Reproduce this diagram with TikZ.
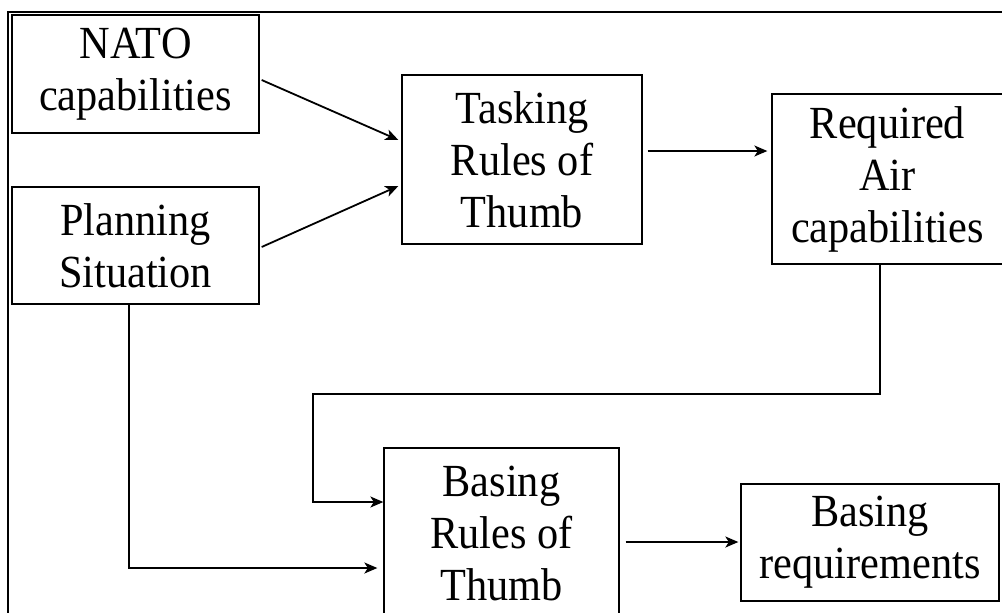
\documentclass[tikz,border=0pt]{standalone}
\usepackage{fontspec}
\setmainfont{Liberation Serif}[FakeStretch=0.92]
\usetikzlibrary{arrows.meta,calc}
\begin{document}
\begin{tikzpicture}[x=1pt,y=-1pt,
  box/.style={draw,line width=1.3pt,inner sep=0pt,align=center,font=\fontsize{46}{52}\selectfont},
  conn/.style={line width=1.8pt,-{Stealth[length=13pt,width=11pt,inset=3.5pt]}}]
\useasboundingbox (0,0) rectangle (1002,613);
\clip (0,0) rectangle (1002,613);
\draw[line width=2.2pt] (8,650) -- (8,12) -- (1020,12);
\node[box,minimum width=247pt,minimum height=118pt] (nato) at (135.5,74) {NATO\\capabilities};
\node[box,minimum width=247pt,minimum height=117pt] (plan) at (135.5,245.5) {Planning\\Situation};
\node[box,minimum width=240pt,minimum height=169pt] (task) at (522,159.5) {Tasking\\Rules of\\Thumb};
\node[box,minimum width=231pt,minimum height=170pt] (req) at (887.5,179) {Required\\Air\\capabilities};
\node[box,minimum width=235pt,minimum height=170pt] (brules) at (501.5,533) {Basing\\Rules of\\Thumb};
\node[box,minimum width=258pt,minimum height=117pt] (breq) at (870,542.5) {Basing\\requirements};
\draw[conn] ($(nato.east)+(2,6)$) -- ($(task.west)+(-3,-19.5)$);
\draw[conn] ($(plan.east)+(2,1.5)$) -- ($(task.west)+(-3,26.5)$);
\draw[conn] ($(task.east)+(5,-8.5)$) -- ($(req.west)+(-4,-28)$);
\draw[conn] ($(req.south)+(-7.5,0)$) -- ++(0,129) -| ($(brules.west)+(-70,-31)$) -- ($(brules.west)+(0,-31)$);
\draw[conn] ($(plan.south)+(-6.5,0)$) |- ($(brules.west)+(-6,35)$);
\draw[conn] ($(brules.east)+(6,9)$) -- ($(breq.west)+(-2,-0.5)$);
\end{tikzpicture}
\end{document}
